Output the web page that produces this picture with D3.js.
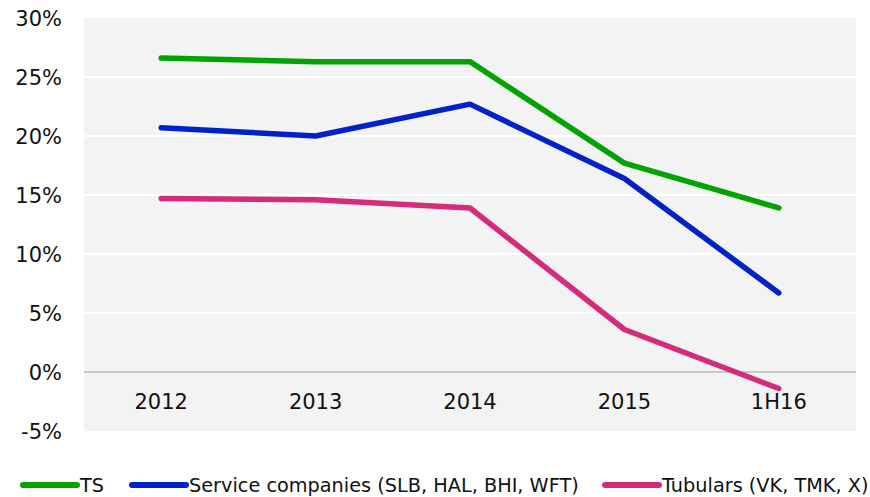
<!DOCTYPE html>
<html>
<head>
  <meta charset="utf-8">
  <script src="https://d3js.org/d3.v7.min.js"></script>
  <style>
    body { margin: 0; background: #fff; }
    text { font-family: "DejaVu Sans", Verdana, sans-serif; fill: #111; }
  </style>
</head>
<body>
<script>
// data
var categories = ["2012", "2013", "2014", "2015", "1H16"];
var tsValues = [26.6, 26.3, 26.3, 17.7, 13.9];
var serviceValues = [20.7, 20.0, 22.7, 16.4, 6.7];
var tubularValues = [14.7, 14.6, 13.9, 3.6, -1.4];
var yTicks = [-5, 0, 5, 10, 15, 20, 25, 30];

var series = [
  { name: "TS", values: tsValues, color: "#00a300" },
  { name: "Service companies (SLB, HAL, BHI, WFT)", values: serviceValues, color: "#0022cc" },
  { name: "Tubulars (VK, TMK, X)", values: tubularValues, color: "#d62a7a" }
];

var width = 870, height = 497;
var plotLeft = 84, plotRight = 856, plotTop = 18, plotBottom = 431;

var svg = d3.select("body").append("svg")
  .attr("width", width)
  .attr("height", height);

var x = d3.scaleBand().domain(categories).range([plotLeft, plotRight]);
var y = d3.scaleLinear().domain([-5, 30]).range([plotBottom, plotTop]);

// plot background
svg.append("rect")
  .attr("x", plotLeft).attr("y", plotTop)
  .attr("width", plotRight - plotLeft).attr("height", plotBottom - plotTop)
  .style("fill", "#f3f3f3");

// gridlines
svg.selectAll(".grid")
  .data(yTicks.filter(function(d) { return d !== 0 && d !== -5 && d !== 30; }))
  .enter().append("line")
  .attr("x1", plotLeft).attr("x2", plotRight)
  .attr("y1", function(d) { return y(d); })
  .attr("y2", function(d) { return y(d); })
  .style("stroke", "#fff")
  .style("stroke-width", 2);

// zero line
svg.append("line")
  .attr("x1", plotLeft).attr("x2", plotRight)
  .attr("y1", y(0)).attr("y2", y(0))
  .style("stroke", "#c8c8c8")
  .style("stroke-width", 2);

// y axis labels
var yAxis = d3.axisLeft(y).tickValues(yTicks).tickSize(0).tickPadding(22)
  .tickFormat(function(d) { return d + "%"; });
var gy = svg.append("g").attr("transform", "translate(" + plotLeft + ",1)").call(yAxis);
gy.select(".domain").remove();
gy.selectAll("text").style("font-size", "21px").style("font-family", "DejaVu Sans").style("fill", "#111");

// x axis labels placed under zero line
var xAxis = d3.axisBottom(x).tickSize(0).tickPadding(22);
var gx = svg.append("g").attr("transform", "translate(0," + y(0) + ")").call(xAxis);
gx.select(".domain").remove();
gx.selectAll("text").style("font-size", "21px").style("font-family", "DejaVu Sans").style("fill", "#111");

// lines
var line = d3.line()
  .x(function(d, i) { return x(categories[i]) + x.bandwidth() / 2; })
  .y(function(d) { return y(d); });

series.forEach(function(s) {
  svg.append("path")
    .datum(s.values)
    .attr("d", line)
    .style("fill", "none")
    .style("stroke", s.color)
    .style("stroke-width", 5.5)
    .style("stroke-linecap", "round")
    .style("stroke-linejoin", "round");
});

// legend
var legendX = [23, 132, 605];
var legend = svg.selectAll(".legend")
  .data(series)
  .enter().append("g")
  .attr("transform", function(d, i) { return "translate(" + legendX[i] + ",485)"; });

legend.append("line")
  .attr("x1", 0).attr("x2", 54)
  .style("stroke", function(d) { return d.color; })
  .style("stroke-width", 6)
  .style("stroke-linecap", "round");

legend.append("text")
  .attr("x", 57)
  .attr("dy", "0.35em")
  .style("font-size", "19.3px")
  .text(function(d) { return d.name; });
</script>
</body>
</html>
